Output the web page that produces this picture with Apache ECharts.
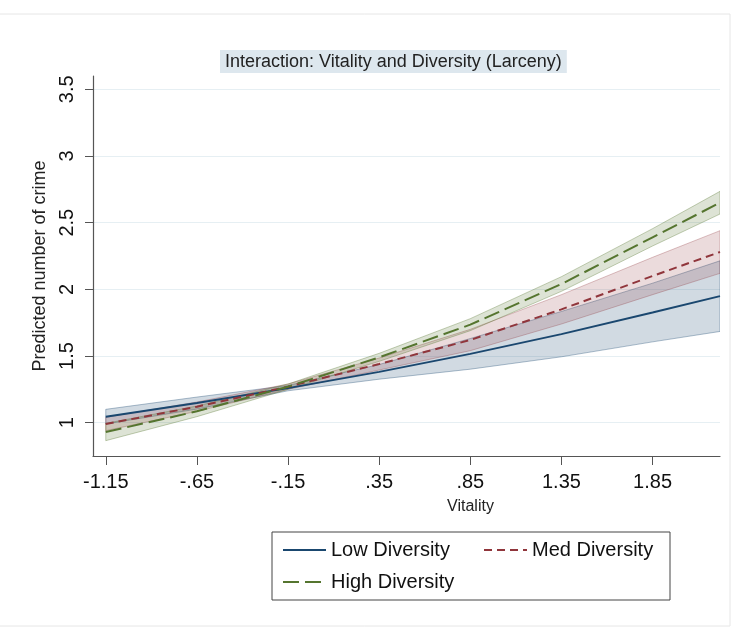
<!DOCTYPE html>
<html>
<head>
<meta charset="utf-8">
<script src="https://cdn.jsdelivr.net/npm/echarts@6/dist/echarts.min.js"></script>
<style>
html,body{margin:0;padding:0;background:#fff;}
#chart{width:739px;height:632px;}
</style>
</head>
<body>
<div id="chart"></div>
<script>
// ---- data ----
const vitality = [-1.15, -0.65, -0.15, 0.35, 0.85, 1.35, 1.85, 2.22];

const lowDiv   = [1.045, 1.147, 1.259, 1.381, 1.516, 1.664, 1.826, 1.949];
const lowLo    = [0.990, 1.102, 1.239, 1.326, 1.401, 1.494, 1.606, 1.684];
const lowHi    = [1.100, 1.192, 1.279, 1.436, 1.631, 1.834, 2.046, 2.214];

const medDiv   = [0.990, 1.120, 1.270, 1.440, 1.620, 1.850, 2.100, 2.280];
const medLo    = [0.940, 1.085, 1.250, 1.395, 1.540, 1.740, 1.960, 2.120];
const medHi    = [1.040, 1.155, 1.290, 1.485, 1.700, 1.960, 2.240, 2.440];

const highDiv  = [0.930, 1.085, 1.270, 1.490, 1.735, 2.040, 2.390, 2.650];
const highLo   = [0.865, 1.045, 1.250, 1.460, 1.690, 1.985, 2.325, 2.565];
const highHi   = [0.995, 1.125, 1.290, 1.520, 1.780, 2.095, 2.455, 2.735];

const xTicks      = [-1.15, -0.65, -0.15, 0.35, 0.85, 1.35, 1.85];
const xTickLabels = ['-1.15', '-.65', '-.15', '.35', '.85', '1.35', '1.85'];
const yTicks      = [1, 1.5, 2, 2.5, 3, 3.5];
const yTickLabels = ['1', '1.5', '2', '2.5', '3', '3.5'];

const seriesNames = ['Low Diversity', 'Med Diversity', 'High Diversity'];
const titleText = 'Interaction: Vitality and Diversity (Larceny)';

// ---- chart ----
const FONT = '"Liberation Sans", Arial, sans-serif';
const colors = ['#1a476f', '#90353b', '#55752f'];
const bandFill = ['rgba(26,71,111,0.20)', 'rgba(144,53,59,0.18)', 'rgba(85,117,47,0.20)'];
const bandStroke = ['rgba(26,71,111,0.35)', 'rgba(144,53,59,0.30)', 'rgba(85,117,47,0.35)'];

function band(name, lo, hi, idx) {
  const data = vitality.map((x, i) => [x, lo[i], hi[i]]);
  return {
    type: 'custom', name: name, data: data, silent: true, z: 1, clip: true,
    encode: { x: 0, y: [1, 2] },
    renderItem: function (params, api) {
      if (params.dataIndex !== 0) return null;
      const pts = [];
      for (let i = 0; i < data.length; i++) pts.push(api.coord([data[i][0], data[i][2]]));
      for (let i = data.length - 1; i >= 0; i--) pts.push(api.coord([data[i][0], data[i][1]]));
      return { type: 'polygon', shape: { points: pts },
        style: { fill: bandFill[idx], stroke: bandStroke[idx], lineWidth: 1 } };
    }
  };
}
function line(name, vals, idx, dash) {
  return {
    type: 'line', name: name, z: 3,
    data: vitality.map((x, i) => [x, vals[i]]),
    symbol: 'none', showSymbol: false,
    lineStyle: { color: colors[idx], width: 2, type: dash },
    itemStyle: { color: colors[idx] }
  };
}

const chart = echarts.init(document.getElementById('chart'), null, { renderer: 'canvas' });
chart.setOption({
  animation: false,
  backgroundColor: '#ffffff',
  textStyle: { fontFamily: FONT },
  title: {
    text: titleText, left: 220, top: 50,
    backgroundColor: '#dde7ee', padding: [3, 5, 2, 5],
    textStyle: { fontSize: 18, fontWeight: 'normal', color: '#222', fontFamily: FONT }
  },
  graphic: [{
    type: 'rect', silent: true, z: -1,
    shape: { x: -2, y: 14, width: 732, height: 612 },
    style: { fill: null, stroke: '#e6e6e6', lineWidth: 1 }
  }],
  grid: { left: 93, right: 19, top: 76, bottom: 176, containLabel: false },
  xAxis: {
    type: 'value', min: -1.22, max: 2.22,
    name: 'Vitality', nameLocation: 'middle', nameGap: 43,
    nameTextStyle: { fontSize: 16, color: '#222', fontFamily: FONT, padding: [0, 0, 0, 128] },
    axisLine: { show: true, onZero: false, lineStyle: { color: '#555', width: 1.2 } },
    axisTick: { show: true, length: 9, customValues: xTicks, lineStyle: { color: '#555' } },
    axisLabel: {
      customValues: xTicks, margin: 16, fontSize: 20, color: '#111', fontFamily: FONT,
      formatter: function (v) { const i = xTicks.findIndex(t => Math.abs(t - v) < 1e-6); return i >= 0 ? xTickLabels[i] : ''; }
    },
    splitLine: { show: false }
  },
  yAxis: {
    type: 'value', min: 0.75, max: 3.6,
    name: 'Predicted number of crime', nameLocation: 'middle', nameGap: 31, nameRotate: 90,
    nameTextStyle: { fontSize: 18, color: '#222', fontFamily: FONT, padding: [12, 0, 0, 0] },
    axisLine: { show: true, onZero: false, lineStyle: { color: '#555', width: 1.2 } },
    axisTick: { show: true, length: 8, customValues: yTicks, lineStyle: { color: '#555' } },
    axisLabel: {
      customValues: yTicks, rotate: 90, margin: 16, fontSize: 20, color: '#111', fontFamily: FONT,
      formatter: function (v) { const i = yTicks.findIndex(t => Math.abs(t - v) < 1e-6); return i >= 0 ? yTickLabels[i] : ''; }
    },
    splitLine: { show: true, lineStyle: { color: '#e6eff3', width: 1.2 } }
  },
  legend: {
    left: 272, top: 532, width: 400,
    orient: 'horizontal',
    padding: [7, 10, 7, 10],
    itemGap: 10, itemWidth: 43, itemHeight: 14,
    borderColor: '#444', borderWidth: 1, borderRadius: 0,
    itemStyle: { color: 'rgba(0,0,0,0)', borderWidth: 0, opacity: 0 },
    textStyle: { fontSize: 20, color: '#111', fontFamily: FONT, lineHeight: 22 },
    data: [
      { name: seriesNames[0], textStyle: { width: 142 } },
      { name: seriesNames[1], textStyle: { width: 128 } },
      { name: seriesNames[2], textStyle: { width: 142 } }
    ]
  },
  series: [
    band('lowCI', lowLo, lowHi, 0),
    band('medCI', medLo, medHi, 1),
    band('highCI', highLo, highHi, 2),
    line(seriesNames[0], lowDiv, 0, 'solid'),
    line(seriesNames[1], medDiv, 1, [8, 5]),
    line(seriesNames[2], highDiv, 2, [16, 6])
  ]
});
</script>
</body>
</html>
